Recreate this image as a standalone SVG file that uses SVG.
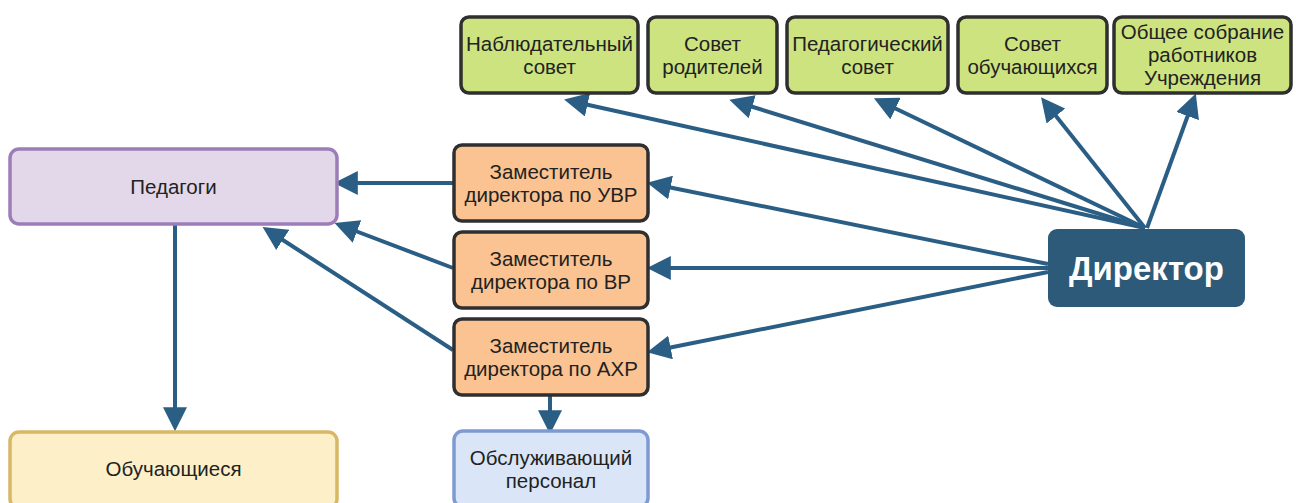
<svg xmlns="http://www.w3.org/2000/svg" width="1296" height="503" viewBox="0 0 1296 503">
<defs>
<marker id="ah" markerWidth="6" markerHeight="6" refX="3.2" refY="3" orient="auto" markerUnits="strokeWidth">
<path d="M0,0 L6,3 L0,6 Z" fill="#2b5e85"/>
</marker>
<style>
.t{font-family:"Liberation Sans",Arial,sans-serif;font-size:20.5px;fill:#222;text-anchor:middle}
.g rect{fill:#cde37f;stroke:#2f2f2f;stroke-width:3.5}
.o rect{fill:#fbc391;stroke:#2f2f2f;stroke-width:3.5}
.c line{stroke:#2b5e85;stroke-width:4;marker-end:url(#ah)}
</style>
</defs>
<rect width="1296" height="503" fill="#ffffff"/>
<g class="c">
<line x1="175" y1="224" x2="175" y2="420"/>
<line x1="453" y1="183" x2="345" y2="183"/>
<line x1="453" y1="268" x2="345" y2="227"/>
<line x1="453" y1="350" x2="272" y2="233"/>
<line x1="550" y1="395" x2="550" y2="423"/>
<line x1="1048" y1="268" x2="658" y2="268"/>
<line x1="1048" y1="264" x2="658" y2="185"/>
<line x1="1048" y1="272" x2="658" y2="350"/>
<line x1="1145" y1="228" x2="575" y2="102"/>
<line x1="1145" y1="228" x2="740" y2="103"/>
<line x1="1145" y1="228" x2="884" y2="103"/>
<line x1="1145" y1="228" x2="1048" y2="106"/>
<line x1="1147" y1="228" x2="1192" y2="104"/>
</g>
<g id="n1" class="g"><rect x="461" y="17" width="177" height="76" rx="8"/>
<text class="t" x="549.5" y="51">Наблюдательный</text><text class="t" x="549.5" y="74">совет</text></g>
<g id="n2" class="g"><rect x="648" y="17" width="129" height="76" rx="8"/>
<text class="t" x="712.5" y="51">Совет</text><text class="t" x="712.5" y="74">родителей</text></g>
<g id="n3" class="g"><rect x="787" y="17" width="161" height="76" rx="8"/>
<text class="t" x="867.5" y="51">Педагогический</text><text class="t" x="867.5" y="74">совет</text></g>
<g id="n4" class="g"><rect x="958" y="17" width="149" height="76" rx="8"/>
<text class="t" x="1032.5" y="51">Совет</text><text class="t" x="1032.5" y="74">обучающихся</text></g>
<g id="n5" class="g"><rect x="1114" y="17" width="177" height="76" rx="8"/>
<text class="t" x="1202.5" y="39">Общее собрание</text><text class="t" x="1202.5" y="62">работников</text><text class="t" x="1202.5" y="85">Учреждения</text></g>
<g id="ped"><rect x="10" y="149" width="327" height="75" rx="9" fill="#e2d8ea" stroke="#9c7db8" stroke-width="3.5"/>
<text class="t" x="173.5" y="194">Педагоги</text></g>
<g id="uvr" class="o"><rect x="454" y="145" width="194" height="76" rx="8"/>
<text class="t" x="551" y="179">Заместитель</text><text class="t" x="551" y="202">директора по УВР</text></g>
<g id="vr" class="o"><rect x="454" y="232" width="194" height="76" rx="8"/>
<text class="t" x="551" y="266">Заместитель</text><text class="t" x="551" y="289">директора по ВР</text></g>
<g id="axr" class="o"><rect x="454" y="319" width="194" height="76" rx="8"/>
<text class="t" x="551" y="353">Заместитель</text><text class="t" x="551" y="376">директора по АХР</text></g>
<g id="obsl"><rect x="454" y="431" width="194" height="76" rx="9" fill="#dae6f7" stroke="#7d9ad2" stroke-width="3.5"/>
<text class="t" x="551" y="465">Обслуживающий</text><text class="t" x="551" y="488">персонал</text></g>
<g id="obuch"><rect x="10" y="432" width="327" height="76" rx="9" fill="#fdf0c9" stroke="#d8b766" stroke-width="3.5"/>
<text class="t" x="173.5" y="476">Обучающиеся</text></g>
<g id="dir"><rect x="1048" y="229" width="197" height="78" rx="9" fill="#2c5a78"/>
<text x="1146.5" y="280" font-family="Liberation Sans,Arial,sans-serif" font-size="33" font-weight="bold" fill="#ffffff" text-anchor="middle">Директор</text></g>
</svg>
